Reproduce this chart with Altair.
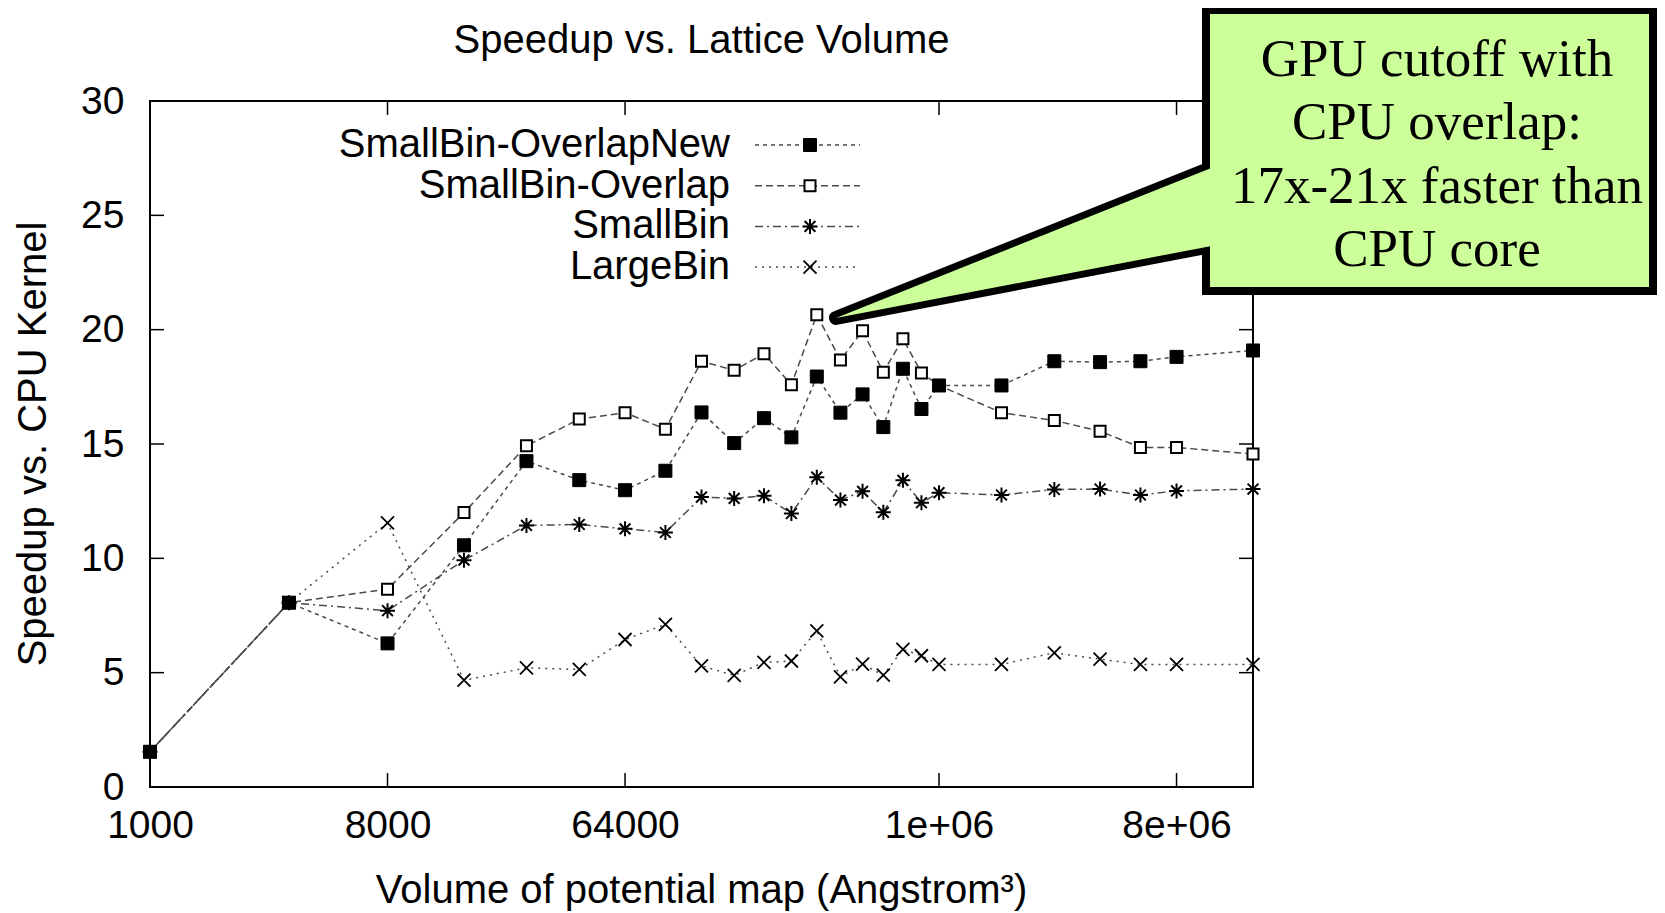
import altair as alt
import pandas as pd

# ---------------- data ----------------
VOLUMES = [1000, 3375, 8000, 15625, 27000, 42875, 64000, 91125, 125000, 166375,
           216000, 274625, 343000, 421875, 512000, 614125, 729000, 857375,
           1000000, 1728000, 2744000, 4096000, 5832000, 8000000, 15625000]

SERIES = ["SmallBin-OverlapNew", "SmallBin-Overlap", "SmallBin", "LargeBin"]

OVERLAP_NEW = [1.54, 8.06, 6.28, 10.57, 14.25, 13.42, 12.98, 13.83, 16.38, 15.04,
               16.13, 15.29, 17.95, 16.37, 17.17, 15.74, 18.29, 16.53,
               17.56, 17.56, 18.62, 18.58, 18.62, 18.81, 19.09]
OVERLAP = [1.54, 8.06, 8.65, 12.00, 14.92, 16.09, 16.37, 15.65, 18.62, 18.22,
           18.95, 17.59, 20.65, 18.67, 19.95, 18.14, 19.60, 18.11,
           17.56, 16.37, 16.03, 15.56, 14.85, 14.85, 14.56]
SMALLBIN = [1.54, 8.06, 7.71, 9.92, 11.44, 11.48, 11.29, 11.13, 12.68, 12.62,
            12.74, 11.96, 13.55, 12.55, 12.93, 12.01, 13.41, 12.43,
            12.87, 12.77, 13.01, 13.03, 12.77, 12.95, 13.03]
LARGEBIN = [1.54, 8.06, 11.55, 4.67, 5.21, 5.14, 6.45, 7.11, 5.30, 4.88,
            5.45, 5.51, 6.83, 4.82, 5.37, 4.89, 6.02, 5.74,
            5.36, 5.36, 5.87, 5.59, 5.36, 5.36, 5.36]

X_TICKS = [1000, 8000, 64000, 1000000, 8000000]
Y_TICKS = [0, 5, 10, 15, 20, 25, 30]
X_DOMAIN = [1000, 15625000]
Y_DOMAIN = [0, 30]

TITLE = "Speedup vs. Lattice Volume"
X_TITLE = "Volume of potential map (Angstrom\u00b3)"
Y_TITLE = "Speedup vs. CPU Kernel"
CALLOUT = ["GPU cutoff with", "CPU overlap:", "17x-21x faster than", "CPU core"]

# ---------------- styling ----------------
W, H = 1103, 686
FONT = "Liberation Sans"
SERIF = "Liberation Serif"
LINE_COLOR = "#4a4a4a"
GREEN = "#ccff99"

STAR = "M-1,0L1,0M0,-1L0,1M-0.72,-0.72L0.72,0.72M-0.72,0.72L0.72,-0.72"
XMARK = "M-1,-1L1,1M-1,1L1,-1"

STYLE = {
    "SmallBin-OverlapNew": dict(dash=[4, 4], shape="square", filled=True, size=169, sw=1),
    "SmallBin-Overlap": dict(dash=[7, 4], shape="square", filled=False, size=121, sw=2),
    "SmallBin": dict(dash=[8, 4, 2, 4], shape=STAR, filled=False, size=225, sw=2),
    "LargeBin": dict(dash=[2, 5], shape=XMARK, filled=False, size=169, sw=1.8),
}

values = {"SmallBin-OverlapNew": OVERLAP_NEW, "SmallBin-Overlap": OVERLAP,
          "SmallBin": SMALLBIN, "LargeBin": LARGEBIN}
rows = []
for s in SERIES:
    for v, y in zip(VOLUMES, values[s]):
        rows.append({"series": s, "vol": v, "speedup": y})
df = pd.DataFrame(rows)

XS = alt.Scale(type="log", domain=X_DOMAIN, nice=False)
YS = alt.Scale(domain=Y_DOMAIN, nice=False, zero=False)
XA = alt.Axis(values=X_TICKS, title=None, domain=False, ticks=False, tickSize=0,
              grid=False, labelFont=FONT, labelFontSize=39, labelColor="black",
              labelPadding=19, labelFlush=False, labelOverlap=False,
              labelExpr="datum.value >= 1000000 ? format(datum.value / 1000000, 'd') + 'e+06' : format(datum.value, 'd')")
YA = alt.Axis(values=Y_TICKS, title=None, domain=False, ticks=False, tickSize=0,
              grid=False, labelFont=FONT, labelFontSize=39, labelColor="black",
              labelPadding=26, labelFlush=False, labelOverlap=False)

ONE = pd.DataFrame({"k": [0]})
xt = pd.DataFrame({"t": X_TICKS})
yt = pd.DataFrame({"t": Y_TICKS})

layers = []

# inward ticks on all four sides
TL = 14
layers.append(alt.Chart(yt).mark_rule(color="black", strokeWidth=1.5).encode(
    y=alt.Y("t:Q", scale=YS, axis=YA), x=alt.value(0), x2=alt.value(TL)))
layers.append(alt.Chart(yt).mark_rule(color="black", strokeWidth=1.5).encode(
    y=alt.Y("t:Q", scale=YS, axis=YA), x=alt.value(W - TL), x2=alt.value(W)))
layers.append(alt.Chart(xt).mark_rule(color="black", strokeWidth=1.5).encode(
    x=alt.X("t:Q", scale=XS, axis=XA), y=alt.value(H - TL), y2=alt.value(H)))
layers.append(alt.Chart(xt).mark_rule(color="black", strokeWidth=1.5).encode(
    x=alt.X("t:Q", scale=XS, axis=XA), y=alt.value(0), y2=alt.value(TL)))

draw_order = ["LargeBin", "SmallBin", "SmallBin-Overlap", "SmallBin-OverlapNew"]

for s in draw_order:
    st = STYLE[s]
    layers.append(alt.Chart(df).transform_filter(alt.datum.series == s).mark_line(
        color=LINE_COLOR, strokeWidth=1.5, strokeDash=st["dash"]).encode(
        x=alt.X("vol:Q", scale=XS, axis=XA),
        y=alt.Y("speedup:Q", scale=YS, axis=YA)))

def marker(st):
    kw = dict(shape=st["shape"], size=st["size"], opacity=1, strokeWidth=st["sw"])
    if st["filled"]:
        kw.update(filled=True, fill="black", stroke="black")
    else:
        kw.update(filled=False, stroke="black")
        if st["shape"] == "square":
            kw["fill"] = "white"
    return kw

for s in draw_order:
    st = STYLE[s]
    layers.append(alt.Chart(df).transform_filter(alt.datum.series == s).mark_point(
        **marker(st)).encode(
        x=alt.X("vol:Q", scale=XS, axis=XA),
        y=alt.Y("speedup:Q", scale=YS, axis=YA)))

# legend (label left, sample right)
LEG_Y0, LEG_DY = 44, 40.7
LEG_TEXT_X, LEG_L0, LEG_L1, LEG_M = 580, 605, 710, 660
for i, s in enumerate(SERIES):
    st = STYLE[s]
    yy = LEG_Y0 + i * LEG_DY
    layers.append(alt.Chart(ONE).mark_text(font=FONT, fontSize=40, align="right",
                                           baseline="middle", color="black").encode(
        x=alt.value(LEG_TEXT_X), y=alt.value(yy), text=alt.value(s)))
    layers.append(alt.Chart(ONE).mark_rule(color=LINE_COLOR, strokeWidth=1.5,
                                           strokeDash=st["dash"]).encode(
        x=alt.value(LEG_L0), x2=alt.value(LEG_L1), y=alt.value(yy)))
    layers.append(alt.Chart(ONE).mark_point(**marker(st)).encode(
        x=alt.value(LEG_M), y=alt.value(yy)))

# titles
layers.append(alt.Chart(ONE).mark_text(font=FONT, fontSize=40, align="center",
                                       baseline="alphabetic", color="black").encode(
    x=alt.value(W / 2), y=alt.value(-48.5), text=alt.value(TITLE)))
layers.append(alt.Chart(ONE).mark_text(font=FONT, fontSize=40, align="center",
                                       baseline="alphabetic", color="black").encode(
    x=alt.value(W / 2), y=alt.value(802), text=alt.value(X_TITLE)))
layers.append(alt.Chart(ONE).mark_text(font=FONT, fontSize=40, align="center",
                                       baseline="alphabetic", angle=270, color="black").encode(
    x=alt.value(-104), y=alt.value(H / 2), text=alt.value(Y_TITLE)))

# callout: wedge + box + text
TIP = (686, 217)
BOX_X0, BOX_X1, BOX_Y0, BOX_Y1 = 1056, 1503, -91, 190
UP_J, LO_J = 69, 146
EXT_X = 1080
su = (UP_J - TIP[1]) / (BOX_X0 - TIP[0])
sl = (LO_J - TIP[1]) / (BOX_X0 - TIP[0])
pts = [TIP, (EXT_X, TIP[1] + su * (EXT_X - TIP[0])), (EXT_X, TIP[1] + sl * (EXT_X - TIP[0]))]
cx = (TIP[0] + EXT_X) / 2
cy = (min(p[1] for p in pts) + max(p[1] for p in pts)) / 2
HS = 200.0
path = "M" + "L".join(f"{(px - cx) / HS:.4f},{(py - cy) / HS:.4f}" for px, py in pts) + "Z"

layers.append(alt.Chart(ONE).mark_point(shape=path, size=(2 * HS) ** 2, filled=True,
                                        fill=GREEN, stroke="black", strokeWidth=14,
                                        strokeJoin="round", opacity=1).encode(
    x=alt.value(cx), y=alt.value(cy)))
layers.append(alt.Chart(ONE).mark_rect(fill=GREEN, stroke="black", strokeWidth=8).encode(
    x=alt.value(BOX_X0), x2=alt.value(BOX_X1), y=alt.value(BOX_Y0), y2=alt.value(BOX_Y1)))
layers.append(alt.Chart(ONE).mark_point(shape=path, size=(2 * HS) ** 2, filled=True,
                                        fill=GREEN, strokeOpacity=0, opacity=1).encode(
    x=alt.value(cx), y=alt.value(cy)))
layers.append(alt.Chart(ONE).mark_text(font=SERIF, fontSize=53, align="center",
                                       baseline="alphabetic", lineHeight=63.6,
                                       color="black").encode(
    x=alt.value(1287), y=alt.value(-25.3), text=alt.value(CALLOUT)))

chart = alt.layer(*layers).properties(
    width=W, height=H,
    padding={"left": 142, "top": 93, "right": 404, "bottom": 126},
    autosize=alt.AutoSizeParams(type="none"),
    background="white",
).configure_view(stroke="black", strokeWidth=2)

chart.save("out.html", embed_options={"renderer": "svg", "actions": False})
